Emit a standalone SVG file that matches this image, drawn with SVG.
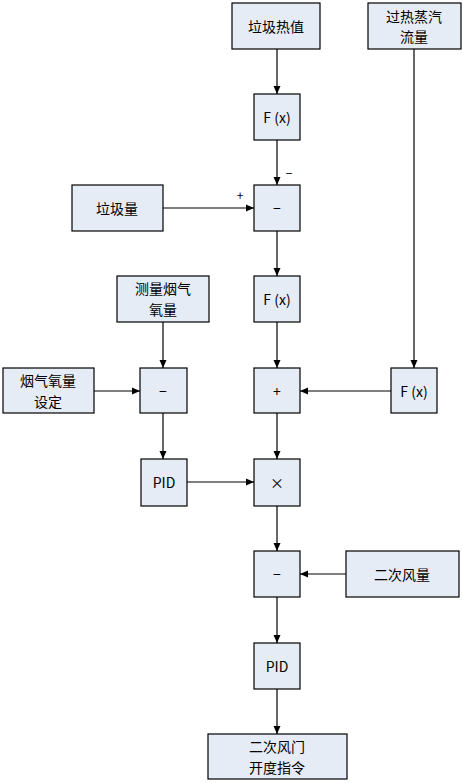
<svg xmlns="http://www.w3.org/2000/svg" width="463" height="783" viewBox="0 0 463 783">
<style>
.n rect{fill:#E6ECF6;stroke:#000;stroke-width:1.2}
text{font-family:"Noto Sans CJK SC","Liberation Sans",sans-serif;font-size:14px;fill:#000;text-anchor:middle;dominant-baseline:central}
.c line{stroke:#000;stroke-width:1.2;marker-end:url(#a)}
.s{font-size:12px}
</style>
<defs><marker id="a" markerWidth="8" markerHeight="8" refX="8" refY="4" orient="auto" markerUnits="userSpaceOnUse"><path d="M0,0.5 L8,4 L0,7.5 Z" fill="#000"/></marker></defs>
<rect width="463" height="783" fill="#fff"/>
<g class="c">
<line x1="277" y1="49" x2="277" y2="94"/>
<line x1="277" y1="140" x2="277" y2="185"/>
<line x1="163" y1="208" x2="254" y2="208"/>
<line x1="277" y1="231" x2="277" y2="276"/>
<line x1="277" y1="322" x2="277" y2="368"/>
<line x1="414" y1="49" x2="414" y2="368"/>
<line x1="391" y1="391" x2="300" y2="391"/>
<line x1="163" y1="322" x2="163" y2="368"/>
<line x1="94" y1="391" x2="140" y2="391"/>
<line x1="163" y1="413" x2="163" y2="459"/>
<line x1="187" y1="482" x2="254" y2="482"/>
<line x1="277" y1="413" x2="277" y2="459"/>
<line x1="277" y1="506" x2="277" y2="551"/>
<line x1="346" y1="574" x2="300" y2="574"/>
<line x1="277" y1="597" x2="277" y2="643"/>
<line x1="277" y1="689" x2="277" y2="734"/>
<text class="s" x="289" y="172">−</text>
<text class="s" x="240" y="194">+</text>
</g>
<g id="n1" class="n"><rect x="232" y="3" width="88" height="46"/><text x="276" y="26">垃圾热值</text></g>
<g id="n2" class="n"><rect x="368" y="3" width="93" height="46"/><text x="414" y="16">过热蒸汽</text><text x="414" y="36">流量</text></g>
<g id="n3" class="n"><rect x="254" y="94" width="46" height="46"/><text x="277" y="117">F (x)</text></g>
<g id="n4" class="n"><rect x="72" y="185" width="91" height="46"/><text x="117" y="208">垃圾量</text></g>
<g id="n5" class="n"><rect x="254" y="185" width="46" height="46"/><text x="277" y="208">−</text></g>
<g id="n6" class="n"><rect x="117" y="276" width="92" height="46"/><text x="163" y="288">测量烟气</text><text x="163" y="309">氧量</text></g>
<g id="n7" class="n"><rect x="254" y="276" width="46" height="46"/><text x="277" y="299">F (x)</text></g>
<g id="n8" class="n"><rect x="3" y="368" width="91" height="45"/><text x="48" y="380">烟气氧量</text><text x="48" y="401">设定</text></g>
<g id="n9" class="n"><rect x="140" y="368" width="47" height="45"/><text x="163" y="391">−</text></g>
<g id="n10" class="n"><rect x="254" y="368" width="46" height="45"/><text x="277" y="391">+</text></g>
<g id="n11" class="n"><rect x="391" y="368" width="46" height="45"/><text x="414" y="391">F (x)</text></g>
<g id="n12" class="n"><rect x="141" y="459" width="46" height="47"/><text x="164" y="482">PID</text></g>
<g id="n13" class="n"><rect x="254" y="459" width="46" height="47"/><text x="277" y="482">×</text></g>
<g id="n14" class="n"><rect x="254" y="551" width="46" height="46"/><text x="277" y="574">−</text></g>
<g id="n15" class="n"><rect x="346" y="551" width="113" height="46"/><text x="402" y="574">二次风量</text></g>
<g id="n16" class="n"><rect x="254" y="643" width="46" height="46"/><text x="277" y="666">PID</text></g>
<g id="n17" class="n"><rect x="208" y="734" width="139" height="45"/><text x="277" y="746">二次风门</text><text x="277" y="767">开度指令</text></g>
</svg>
